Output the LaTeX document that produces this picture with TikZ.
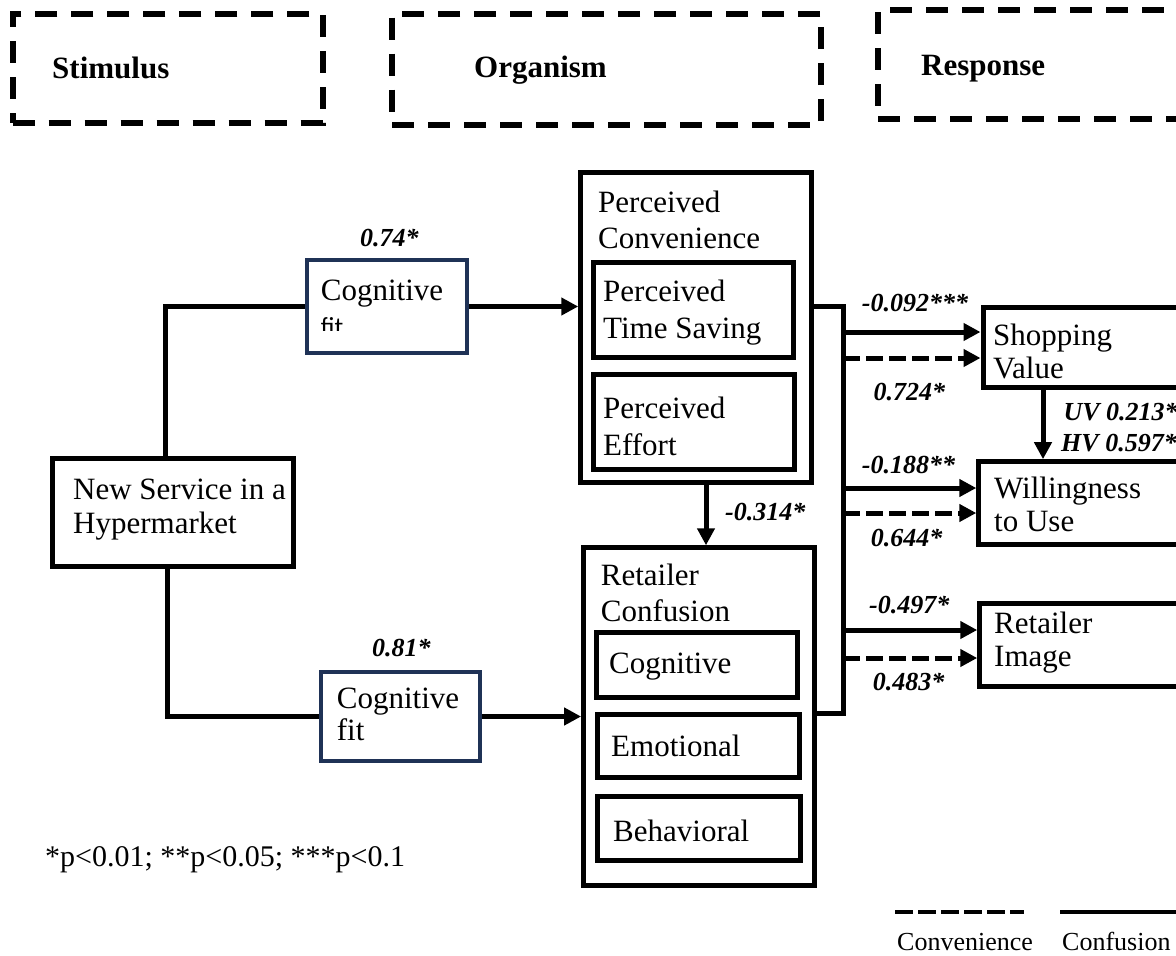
\documentclass[tikz,border=0pt]{standalone}
\usepackage{fontspec}
\setmainfont{Liberation Serif}
\newfontfamily\fitfont{Carlito}
\usetikzlibrary{arrows.meta}
\definecolor{navy}{HTML}{1F3256}

\begin{document}
\begin{tikzpicture}[x=1pt,y=-1pt,
  box/.style={draw, line width=5pt, inner sep=0pt, rectangle},
  fitbox/.style={draw=navy, line width=4.5pt, inner sep=0pt, rectangle},
  hdrbox/.style={draw, line width=6pt, dash pattern=on 22pt off 14pt, inner sep=0pt, rectangle},
  txt/.style={inner sep=0pt, anchor=base west, font=\fontsize{31}{36}\selectfont},
  hdr/.style={inner sep=0pt, anchor=base west, font=\bfseries\fontsize{31}{36}\selectfont},
  coef/.style={inner sep=0pt, anchor=base west, font=\bfseries\itshape\fontsize{26}{30}\selectfont},
  small/.style={inner sep=0pt, anchor=base west, font=\fontsize{26}{30}\selectfont},
  link/.style={line width=5pt},
  arr/.style={line width=5pt, -{Triangle[length=17pt,width=17pt]}},
  darr/.style={arr, dash pattern=on 17pt off 6pt},
]
\useasboundingbox (0,0) rectangle (1176,956);
\clip (0,0) rectangle (1176,956);

% ---------- S-O-R header frames ----------
\node[hdrbox, minimum width=309.8pt, minimum height=109pt] (stim) at (167.6,68.5) {};
\node[hdrbox, minimum width=428.5pt, minimum height=111pt] (org) at (606.3,69) {};
\node[hdrbox, minimum width=322pt, minimum height=109.5pt] (resp) at (1039,64.3) {};
\node[hdr] (stimt) at (52,78) {Stimulus};
\node[hdr] (orgt) at (474,77) {Organism};
\node[hdr] (respt) at (921,75) {Response};

% ---------- stimulus ----------
\node[box, minimum width=241pt, minimum height=108pt] (ns) at (173,512) {};
\node[txt] (ns1) at (73,499) {New Service in a};
\node[txt] (ns2) at (73,533) {Hypermarket};

% ---------- cognitive fit boxes ----------
\node[fitbox, minimum width=160pt, minimum height=93pt] (cf1) at (387,306.5) {};
\node[txt] (cf1a) at (320.7,300.7) {Cognitive};
\begin{scope}
  \clip (312,262) rectangle (462,330);
  \node[inner sep=0pt, anchor=base west, font=\fitfont\fontsize{26}{30}\selectfont] (cf1b) at (320.7,335) {fit};
\end{scope}
\node[coef] (k1) at (360,246) {0.74*};

\node[fitbox, minimum width=159pt, minimum height=89pt] (cf2) at (400.5,716.5) {};
\node[txt] (cf2a) at (336.7,708.3) {Cognitive};
\node[txt] (cf2b) at (336.7,740) {fit};
\node[coef] (k2) at (372,656) {0.81*};

% ---------- organism: perceived convenience ----------
\node[box, minimum width=230.5pt, minimum height=310pt] (pc) at (696,327.5) {};
\node[txt] (pc1) at (598,212.5) {Perceived};
\node[txt] (pc2) at (598,248) {Convenience};
\node[box, minimum width=199.6pt, minimum height=95.3pt] (pts) at (693.5,310.3) {};
\node[txt] (pts1) at (603,301.7) {Perceived};
\node[txt] (pts2) at (603,338) {Time Saving};
\node[box, minimum width=201pt, minimum height=94.4pt] (pe) at (694.3,422) {};
\node[txt] (pe1) at (603,418) {Perceived};
\node[txt] (pe2) at (603,455) {Effort};

% ---------- organism: retailer confusion ----------
\node[box, minimum width=230.8pt, minimum height=338pt] (rc) at (699,716.8) {};
\node[txt] (rc1) at (600.7,585) {Retailer};
\node[txt] (rc2) at (600.7,621.7) {Confusion};
\node[box, minimum width=200.9pt, minimum height=64.7pt] (cog) at (696.7,665.2) {};
\node[txt] (cogt) at (609,673.3) {Cognitive};
\node[box, minimum width=202.6pt, minimum height=63pt] (emo) at (698.5,746) {};
\node[txt] (emot) at (611,756.7) {Emotional};
\node[box, minimum width=202.5pt, minimum height=64.6pt] (beh) at (698.8,828.5) {};
\node[txt] (beht) at (613,841.7) {Behavioral};

% ---------- responses ----------
\node[box, minimum width=217pt, minimum height=79.4pt] (sv) at (1091.5,347.5) {};
\node[txt] (sv1) at (993,345) {Shopping};
\node[txt] (sv2) at (993,378) {Value};
\node[box, minimum width=221.2pt, minimum height=82.8pt] (wu) at (1089.4,503.1) {};
\node[txt] (wu1) at (994,498.3) {Willingness};
\node[txt] (wu2) at (994,531.7) {to Use};
\node[box, minimum width=220.3pt, minimum height=83.4pt] (ri) at (1089.9,645) {};
\node[txt] (ri1) at (994,633.3) {Retailer};
\node[txt] (ri2) at (994,666.7) {Image};

% ---------- stimulus to organism ----------
\coordinate (nsup) at (165.5,0);
\coordinate (nsdn) at (167.5,0);
\draw[link] (ns.north -| nsup) |- (cf1.west);
\draw[link] (ns.south -| nsdn) |- (cf2.west);
\draw[arr] (cf1.east) -- (pc.west |- cf1.east);
\draw[arr] (cf2.east) -- (rc.west |- cf2.east);

% convenience -> confusion
\coordinate (cc) at (706,0);
\draw[arr] (pc.south -| cc) -- (rc.north -| cc);
\node[coef] (k3) at (725,520) {-0.314*};

% ---------- organism to response (shared bus) ----------
\coordinate (bt) at (843,306);
\coordinate (bb) at (843,713);
\draw[link] (pc.east |- bt) -- (bt) -- (bb) -- (rc.east |- bb);

\coordinate (r1) at (843,332);
\coordinate (r2) at (843,358);
\coordinate (r3) at (843,488);
\coordinate (r4) at (843,513);
\coordinate (r5) at (843,630);
\coordinate (r6) at (843,658);
\draw[arr] (r1) -- (sv.west |- r1);
\draw[darr] (r2) -- (sv.west |- r2);
\draw[arr] (r3) -- (wu.west |- r3);
\draw[darr] (r4) -- (wu.west |- r4);
\draw[arr] (r5) -- (ri.west |- r5);
\draw[darr] (r6) -- (ri.west |- r6);

\node[coef] (k4) at (861.7,311.7) {-0.092***};
\node[coef] (k5) at (873.3,400.7) {0.724*};
\node[coef] (k6) at (861.7,473.3) {-0.188**};
\node[coef] (k7) at (870.7,546.7) {0.644*};
\node[coef] (k8) at (869,613.3) {-0.497*};
\node[coef] (k9) at (872.7,690.7) {0.483*};

% shopping value -> willingness
\coordinate (sw) at (1043,0);
\draw[arr] (sv.south -| sw) -- (wu.north -| sw);
\node[coef] (k10) at (1063.3,420) {UV 0.213*};
\node[coef] (k11) at (1061,451.7) {HV 0.597*};

% ---------- significance note and legend ----------
\node[inner sep=0pt, anchor=base west, font=\fontsize{30}{34}\selectfont] (note) at (45,866) {*p<0.01; **p<0.05; ***p<0.1};
\coordinate (lg1) at (895,912);
\coordinate (lg2) at (1024,912);
\coordinate (lg3) at (1060,912);
\coordinate (lg4) at (1190,912);
\draw[line width=4.5pt, dash pattern=on 18pt off 5pt] (lg1) -- (lg2);
\draw[line width=4.5pt] (lg3) -- (lg4);
\node[small] (lgt1) at (897,950) {Convenience};
\node[small] (lgt2) at (1062,950) {Confusion};
\end{tikzpicture}
\end{document}
